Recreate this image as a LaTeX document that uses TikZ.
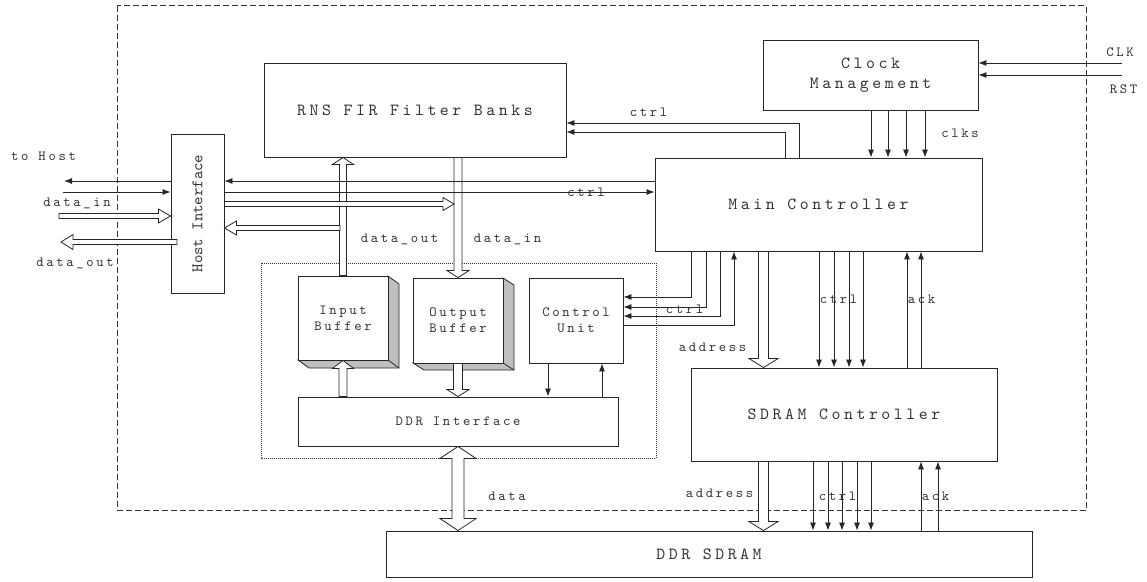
\documentclass[tikz,border=0pt]{standalone}
\usepackage{fontspec}
\usetikzlibrary{calc,arrows.meta}
\newfontfamily\bigfam[LetterSpace=21]{lmmono10-regular.otf}
\newfontfamily\medfam[LetterSpace=19]{lmmono10-regular.otf}
\newfontfamily\hostfam{lmmono10-regular.otf}
\newcommand\fbig{\bigfam\fontsize{17}{20}\selectfont}
\newcommand\fmed{\medfam\fontsize{14}{16}\selectfont}
\newcommand\fhost{\hostfam\fontsize{16}{18}\selectfont}
% hollow single arrow: [opts]{from}{to}{shaft half}{head half}{head length}
\newcommand\hollowarrow[6][]{%
  \coordinate (hbx) at ($(#3)!#6pt!(#2)$);
  \draw[hollow,#1] ($(#2)!#4pt!90:(#3)$) -- ($(hbx)!#4pt!-90:(#2)$) -- ($(hbx)!#5pt!-90:(#2)$) -- (#3)
    -- ($(hbx)!#5pt!90:(#2)$) -- ($(hbx)!#4pt!90:(#2)$) -- ($(#2)!#4pt!-90:(#3)$) -- cycle;}
% hollow double arrow: {A}{B}{shaft half}{head half}{head length}
\newcommand\dhollow[5]{%
  \coordinate (hax) at ($(#1)!#5pt!(#2)$);
  \coordinate (hbx) at ($(#2)!#5pt!(#1)$);
  \draw[hollow] (#1) -- ($(hax)!#4pt!90:(#2)$) -- ($(hax)!#3pt!90:(#2)$) -- ($(hbx)!#3pt!-90:(#1)$)
    -- ($(hbx)!#4pt!-90:(#1)$) -- (#2) -- ($(hbx)!#4pt!90:(#1)$) -- ($(hbx)!#3pt!90:(#1)$)
    -- ($(hax)!#3pt!-90:(#2)$) -- ($(hax)!#4pt!-90:(#2)$) -- cycle;}
\begin{document}
\begin{tikzpicture}[x=1pt,y=-1pt,
  box/.style={draw=black!85, line width=0.9pt, fill=white, inner sep=0pt, anchor=center, text=black!80, align=center},
  lbl/.style={font=\fmed, inner sep=0pt, text=black!80},
  ar/.style={draw=black!85, line width=0.8pt, -{Latex[length=8pt,width=6pt]}},
  hollow/.style={draw=black!85, line width=0.8pt, fill=white, line join=miter},
  side/.style={draw=black!85, line width=0.8pt, fill=black!25, line join=miter}]
\useasboundingbox (0,0) rectangle (1147,581);
% frames
\draw[dash pattern=on 6pt off 3pt, line width=0.8pt, black!80] (117,5.5) rectangle (1086,510);
\draw[dash pattern=on 1pt off 1pt, line width=0.6pt, black!80] (261,263) rectangle (656,458);
% 3D sides of buffers
\draw[side] (388,276) -- (399,284) -- (399,368) -- (309,368) -- (298,360) -- (388,360) -- cycle;
\draw[line width=0.8pt, black!85] (388,360) -- (399,368);
\draw[side] (503,278) -- (514,285) -- (514,370) -- (424,370) -- (413,363) -- (503,363) -- cycle;
\draw[line width=0.8pt, black!85] (503,363) -- (514,370);
% boxes
\node[box, minimum width=302pt, minimum height=94pt, font=\fbig] (rns) at (415,110) {RNS FIR Filter Banks};
\node[box, minimum width=215pt, minimum height=70pt, font=\fbig] (clk) at (870.5,75) {Clock\\Management};
\node[box, minimum width=327pt, minimum height=93pt, font=\fbig] (mc) at (818.5,204.5) {Main Controller};
\node[box, minimum width=53pt, minimum height=159pt] (hi) at (197.5,213.5) {};
\node[font=\fhost, rotate=90, inner sep=0pt, text=black!80] (hil) at (hi.center) {Host Interface};
\node[box, minimum width=306pt, minimum height=93pt, font=\fbig] (sdc) at (844,414.5) {SDRAM Controller};
\node[box, minimum width=646pt, minimum height=46pt, font=\fbig] (ddr) at (709,554) {DDR SDRAM};
\node[box, minimum width=320pt, minimum height=49pt, font=\fmed] (ddri) at (458,421.5) {DDR Interface};
\node[box, minimum width=90pt, minimum height=84pt, font=\fmed] (ib) at (343,318) {Input\\Buffer};
\node[box, minimum width=90pt, minimum height=85pt, font=\fmed] (ob) at (458,320.5) {Output\\Buffer};
\node[box, minimum width=94pt, minimum height=85pt, font=\fmed] (cu) at (576,320.5) {Control\\Unit};
% free ends
\coordinate (clkin) at (1122,63);
\coordinate (rstin) at (1122,75);
\coordinate (toh) at (64,181);
\coordinate (fromh) at (63,192);
\coordinate (din) at (59,216);
\coordinate (dout) at (61,242);
\coordinate (doutsrc) at (177,242);
\coordinate (hrtip) at (454,204);
\coordinate (hlsrc) at (340,228);
% vertical hollow arrows
\hollowarrow{343,0 |- ib.north}{343,0 |- rns.south}{3.5}{10.5}{7}
\hollowarrow{458,0 |- rns.south}{ob.north}{4}{11}{7}
\hollowarrow{343,0 |- ddri.north}{ib.south}{4}{10.5}{8}
\hollowarrow{ob.south}{ddri.north}{4.5}{11}{7}
\hollowarrow{763.5,0 |- mc.south}{763.5,0 |- sdc.north}{5}{14.5}{9}
\hollowarrow{763.5,0 |- sdc.south}{763.5,0 |- ddr.north}{5}{14.5}{9}
\dhollow{ddri.south}{ddri.south |- ddr.north}{6}{18}{12}
% clock inputs
\draw[ar] (clkin) -- (clkin -| clk.east);
\draw[ar] (rstin) -- (rstin -| clk.east);
\foreach \x in {871,888,906,925} \draw[ar] (\x,0 |- clk.south) -- (\x,0 |- mc.north);
% ctrl to filter banks
\draw[ar] (799,0 |- mc.north) |- (rns.east |- 0,123);
\draw[ar] (785,0 |- mc.north) |- (rns.east |- 0,132);
% host interface lines
\draw[ar] (mc.west |- 0,181) -- (hi.east |- 0,181);
\draw[ar] (hi.east |- 0,192) -- (mc.west |- 0,192);
\draw[ar] (hi.west |- toh) -- (toh);
\draw[ar] (fromh) -- (hi.west |- fromh);
% horizontal hollow arrows
\hollowarrow{din}{hi.west |- din}{2.5}{7}{12}
\hollowarrow{doutsrc}{dout}{2.5}{7.5}{12}
\hollowarrow{hi.east |- hrtip}{hrtip}{2.5}{6.5}{11}
\hollowarrow{hlsrc}{hi.east |- hlsrc}{2.5}{7}{12}
% control unit connections
\draw[ar] (691,0 |- mc.south) |- (cu.east |- 0,297);
\draw[ar] (706,0 |- mc.south) |- (cu.east |- 0,307);
\draw[ar] (720,0 |- mc.south) |- (cu.east |- 0,316);
\draw[ar] (cu.east |- 0,325) -| (734,0 |- mc.south);
\draw[ar] (548,0 |- cu.south) -- (548,0 |- ddri.north);
\draw[ar] (602,0 |- ddri.north) -- (602,0 |- cu.south);
% main controller <-> sdram controller
\foreach \x in {819,834,849,863} \draw[ar] (\x,0 |- mc.south) -- (\x,0 |- sdc.north);
\foreach \x in {907,921} \draw[ar] (\x,0 |- sdc.north) -- (\x,0 |- mc.south);
% sdram controller <-> ddr sdram
\foreach \x in {813,828,842,857,871} \draw[ar] (\x,0 |- sdc.south) -- (\x,0 |- ddr.north);
\foreach \x in {921,938} \draw[ar] (\x,0 |- ddr.north) -- (\x,0 |- sdc.south);
% labels
\node[lbl] (l1) at (43.5,156) {to Host};
\node[lbl] (l2) at (77,203) {data\_in};
\node[lbl] (l3) at (75,263) {data\_out};
\node[lbl] (l4) at (399.5,239) {data\_out};
\node[lbl] (l5) at (507.5,239) {data\_in};
\node[lbl] (l6) at (648.5,112) {ctrl};
\node[lbl] (l7) at (586,192) {ctrl};
\node[lbl] (l8) at (960,133) {clks};
\node[lbl] (l9) at (1120,52) {CLK};
\node[lbl] (l10) at (1123.5,89) {RST};
\node[lbl] (l11) at (684.5,309) {ctrl};
\node[lbl] (l12) at (712.5,347) {address};
\node[lbl] (l13) at (838.5,299) {ctrl};
\node[lbl] (l14) at (921.5,299) {ack};
\node[lbl] (l15) at (507,496) {data};
\node[lbl] (l16) at (719.5,493) {address};
\node[lbl] (l17) at (837.5,496) {ctrl};
\node[lbl] (l18) at (935.5,496) {ack};
\end{tikzpicture}
\end{document}
